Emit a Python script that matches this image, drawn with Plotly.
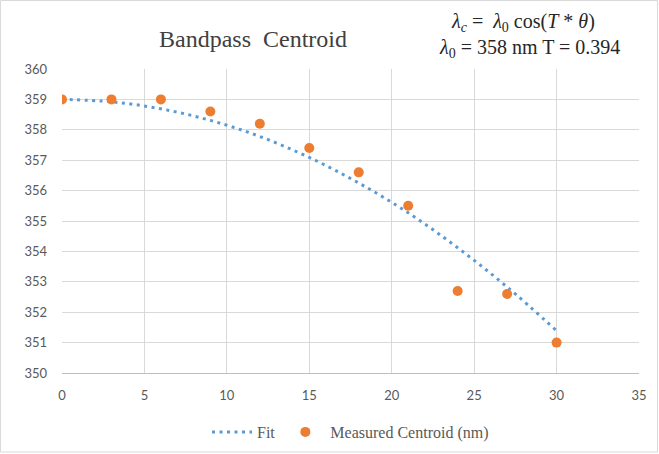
import plotly.graph_objects as go

angle = [0, 3, 6, 9, 12, 15, 18, 21, 24, 27, 30]
measured = [359.0, 359.0, 359.0, 358.6, 358.2, 357.4, 356.6, 355.5, 352.7, 352.6, 351.0]
fit_angle = [0, 3, 6, 9, 12, 15, 18, 21, 24, 27, 30]
fit_vals = [359.0, 358.92, 358.69, 358.31, 357.78, 357.09, 356.25, 355.27, 354.12, 352.83, 351.39]
x_ticks = [0, 5, 10, 15, 20, 25, 30, 35]
y_ticks = [350, 351, 352, 353, 354, 355, 356, 357, 358, 359, 360]

W, H = 659, 454
L, R, T, B = 62, 19.5, 69, 81
pw = W - L - R
ph = H - T - B

def px(xp):
    return (xp - L) / pw

def py(yp):
    return (H - B - yp) / ph

fig = go.Figure()
fig.add_trace(go.Scatter(
    x=fit_angle, y=fit_vals, mode="lines", name="Fit",
    line=dict(color="#5B9BD5", width=3, dash="3px,4.5px", shape="spline"),
))
fig.add_trace(go.Scatter(
    x=angle, y=measured, mode="markers", name="Measured Centroid (nm)",
    marker=dict(color="#ED7D31", size=10),
))

fig.update_layout(
    width=W, height=H,
    margin=dict(l=L, r=R, t=T, b=B, autoexpand=False),
    paper_bgcolor="white", plot_bgcolor="white",
    showlegend=True,
    legend=dict(orientation="h", x=0.5, xanchor="center", y=py(432), yanchor="middle",
                font=dict(family="Liberation Serif", size=16, color="#595959"),
                itemwidth=40, tracegroupgap=0),
    xaxis=dict(range=[0, 35], tickvals=x_ticks, showgrid=True, gridcolor="#D9D9D9", gridwidth=1,
               zeroline=False, showline=True, linecolor="#BFBFBF", ticks="",
               ticklabelstandoff=10, automargin=False,
               tickfont=dict(family="Lato", size=13, color="#595959")),
    yaxis=dict(range=[350, 360], tickvals=y_ticks, showgrid=True, gridcolor="#D9D9D9", gridwidth=1,
               zeroline=False, showline=False, ticks="",
               ticklabelstandoff=14, automargin=False,
               tickfont=dict(family="Lato", size=13, color="#595959")),
    font=dict(family="Liberation Serif", color="#404040"),
)

fig.add_annotation(text="Bandpass  Centroid", xref="paper", yref="paper",
                   x=px(253), y=py(39), xanchor="center", yanchor="middle", showarrow=False,
                   font=dict(family="Liberation Serif", size=24, color="#404040"))
fig.add_annotation(text="<i>λ</i><sub><i>c</i></sub> =  <i>λ</i><sub>0</sub> cos(<i>T</i> * <i>θ</i>)",
                   xref="paper", yref="paper",
                   x=px(523), y=py(23), xanchor="center", yanchor="middle", showarrow=False,
                   font=dict(family="Liberation Serif", size=20, color="#262626"))
fig.add_annotation(text="<i>λ</i><sub>0</sub> = 358 nm T = 0.394",
                   xref="paper", yref="paper",
                   x=px(530), y=py(49), xanchor="center", yanchor="middle", showarrow=False,
                   font=dict(family="Liberation Serif", size=20, color="#262626"))

fig.add_shape(type="rect", xref="paper", yref="paper",
              x0=px(0.5), x1=px(658), y0=py(452), y1=py(0.5),
              line=dict(color="#D9D9D9", width=1), layer="below")

fig.write_html("out.html", config={"displayModeBar": False},
               post_script="document.body.style.margin='0';document.body.style.overflow='hidden';")
